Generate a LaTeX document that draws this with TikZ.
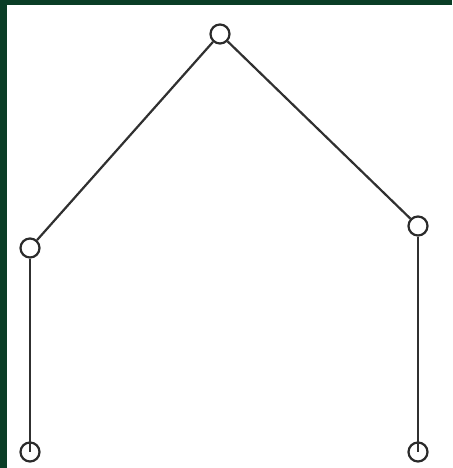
\documentclass[tikz,border=0pt]{standalone}
\usetikzlibrary{positioning}
\definecolor{frame}{HTML}{0A3D26}
\definecolor{ink}{HTML}{2A2A2A}
\definecolor{edgeink}{HTML}{303030}
\tikzset{
  vertex/.style={circle,draw=ink,fill=white,line width=2.2pt,minimum size=19pt,inner sep=0pt},
  branch/.style={line width=2.2pt,draw=edgeink}
}
\begin{document}
\begin{tikzpicture}[x=1pt,y=1pt]
  \useasboundingbox (0,0) rectangle (452,468);
  \fill[white] (0,0) rectangle (452,468);
  \fill[frame] (0,0) rectangle (7,468);
  \fill[frame] (0,463) rectangle (452,468);

  \node[vertex] (root) at (220,434) {};
  \node[vertex] (left) at (30,220) {};
  \node[vertex] (right) at (418,242) {};
  \node[vertex] (leftleaf) at (30,16) {};
  \node[vertex] (rightleaf) at (418,16) {};

  \draw[branch] (root) -- (left);
  \draw[branch] (root) -- (right);
  \draw[branch] (left) -- (leftleaf.center);
  \draw[branch] (right) -- (rightleaf.center);
\end{tikzpicture}
\end{document}
